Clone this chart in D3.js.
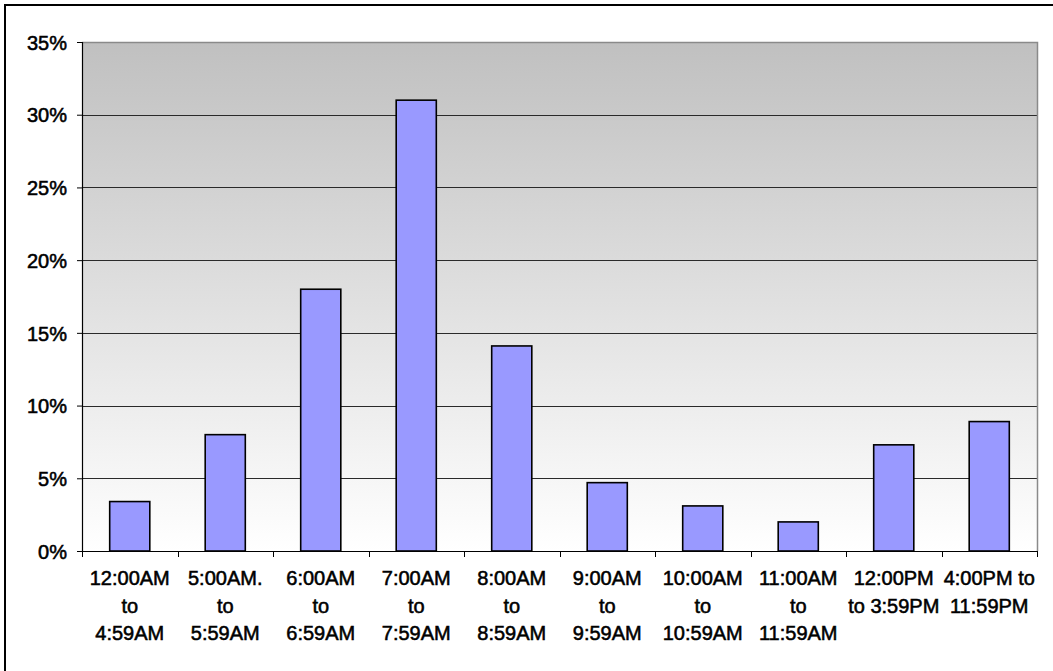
<!DOCTYPE html>
<html>
<head>
<meta charset="utf-8">
<script src="https://cdn.jsdelivr.net/npm/d3@7"></script>
<style>
  html, body { margin: 0; padding: 0; background: #fff; }
  svg { display: block; }
  text { font-family: Arial, "Liberation Sans", sans-serif; fill: #000; }
  .lbl { stroke: #000; stroke-width: 0.55px; }
</style>
</head>
<body>
<svg id="chart" width="1053" height="671"></svg>
<script>
const categories = [
  ["12:00AM", "to", "4:59AM"],
  ["5:00AM.", "to", "5:59AM"],
  ["6:00AM", "to", "6:59AM"],
  ["7:00AM", "to", "7:59AM"],
  ["8:00AM", "to", "8:59AM"],
  ["9:00AM", "to", "9:59AM"],
  ["10:00AM", "to", "10:59AM"],
  ["11:00AM", "to", "11:59AM"],
  ["12:00PM", "to 3:59PM"],
  ["4:00PM to", "11:59PM"]
];
const values = [3.4, 8.0, 18.0, 31.0, 14.1, 4.7, 3.1, 2.0, 7.3, 8.9];
const yTicks = [0, 5, 10, 15, 20, 25, 30, 35];

const svg = d3.select("#chart");
const W = 1053, H = 671;
const m = { left: 82, right: 1037, top: 42, bottom: 551 };

// outer frame
svg.append("rect").attr("x", 5).attr("y", 5).attr("width", W + 10).attr("height", H + 10)
  .attr("fill", "#fff").attr("stroke", "#000").attr("stroke-width", 2);

const defs = svg.append("defs");
const grad = defs.append("linearGradient").attr("id", "bg").attr("x1", 0).attr("y1", 0).attr("x2", 0).attr("y2", 1);
grad.append("stop").attr("offset", "0%").attr("stop-color", "#c0c0c0");
grad.append("stop").attr("offset", "100%").attr("stop-color", "#ffffff");

const x = d3.scaleBand().domain(d3.range(categories.length)).range([m.left, m.right]).paddingInner(0.58).paddingOuter(0.29);
const y = d3.scaleLinear().domain([0, 35]).range([m.bottom, m.top]);

// plot background
svg.append("rect").attr("x", m.left).attr("y", m.top).attr("width", m.right - m.left).attr("height", m.bottom - m.top)
  .attr("fill", "url(#bg)");

// gridlines
svg.append("g").selectAll("line").data(yTicks.filter(t => t > 0 && t < 35)).join("line")
  .attr("x1", m.left).attr("x2", m.right)
  .attr("y1", d => Math.round(y(d)) + 0.5).attr("y2", d => Math.round(y(d)) + 0.5)
  .attr("stroke", "#2a2a2a").attr("stroke-width", 1);

// plot border top & right
svg.append("path")
  .attr("d", `M${m.left},${m.top + 0.5}H${m.right + 0.5}V${m.bottom}`)
  .attr("fill", "none").attr("stroke", "#8a8a8a").attr("stroke-width", 1.5);

// bars
svg.append("g").selectAll("rect").data(values).join("rect")
  .attr("x", (d, i) => x(i))
  .attr("y", d => y(d))
  .attr("width", x.bandwidth())
  .attr("height", d => y(0) - y(d))
  .attr("fill", "#9999ff").attr("stroke", "#000").attr("stroke-width", 1.6);

// y axis
const yAxis = d3.axisLeft(y).tickValues(yTicks).tickSize(5).tickPadding(10).tickFormat(d => d + "%");
const gy = svg.append("g").attr("transform", `translate(${m.left},0)`).call(yAxis);
gy.select(".domain").attr("stroke", "#000").attr("stroke-width", 1.2);
gy.selectAll(".tick line").attr("stroke", "#000");
gy.selectAll(".tick text").attr("class", "lbl").attr("font-size", 20).attr("dy", "0.36em")
  .style("font-family", "Arial, 'Liberation Sans', sans-serif");

// x axis baseline + ticks
const bounds = d3.range(categories.length + 1).map(i => m.left + i * (m.right - m.left) / categories.length);
svg.append("line").attr("x1", m.left).attr("x2", m.right).attr("y1", m.bottom + 0.5).attr("y2", m.bottom + 0.5)
  .attr("stroke", "#000").attr("stroke-width", 1.2);
svg.append("g").selectAll("line").data(bounds).join("line")
  .attr("x1", d => Math.round(d) + 0.5).attr("x2", d => Math.round(d) + 0.5)
  .attr("y1", m.bottom).attr("y2", m.bottom + 6)
  .attr("stroke", "#000").attr("stroke-width", 1);

// x labels
const gl = svg.append("g");
categories.forEach((lines, i) => {
  const cx = x(i) + x.bandwidth() / 2;
  const t = gl.append("text").attr("class", "lbl").attr("text-anchor", "middle").attr("font-size", 20);
  lines.forEach((s, k) => {
    t.append("tspan").attr("x", cx).attr("y", 585 + k * 27.5).text(s);
  });
});
</script>
</body>
</html>
